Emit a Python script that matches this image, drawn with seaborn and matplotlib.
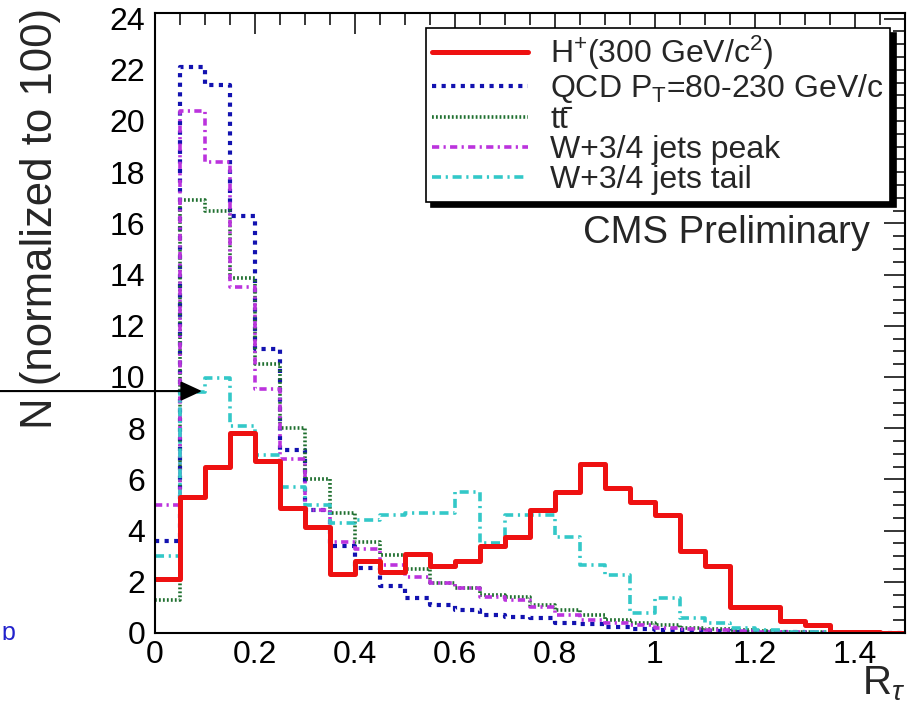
import numpy as np
import matplotlib
matplotlib.use('Agg')
import matplotlib.pyplot as plt
from matplotlib.lines import Line2D
from matplotlib.ticker import MultipleLocator, FuncFormatter
import seaborn as sns
import pandas as pd

# R_tau distributions, 30 bins of width 0.05 between 0 and 1.5 (normalized to 100)
bin_edges = list(np.linspace(0.0, 1.5, 31))
hplus = [2.1, 5.3, 6.5, 7.8, 6.7, 4.9, 4.15, 2.3, 2.8, 2.4,
         3.1, 2.6, 2.8, 3.4, 3.75, 4.8, 5.5, 6.6, 5.65, 5.1,
         4.6, 3.2, 2.6, 1.0, 1.0, 0.45, 0.3, 0.05, 0.02, 0.0]
qcd = [3.6, 22.1, 21.4, 16.3, 11.1, 7.15, 4.8, 3.4, 2.55, 1.85,
       1.35, 1.1, 0.9, 0.7, 0.63, 0.57, 0.4, 0.35, 0.25, 0.15,
       0.12, 0.1, 0.06, 0.04, 0.03, 0.02, 0.01, 0.01, 0.0, 0.0]
ttbar = [1.3, 16.9, 16.5, 13.85, 10.5, 8.0, 6.0, 4.7, 3.55, 3.05,
         2.5, 1.95, 1.75, 1.5, 1.4, 1.1, 0.9, 0.7, 0.5, 0.4,
         0.3, 0.2, 0.15, 0.1, 0.08, 0.05, 0.03, 0.02, 0.01, 0.0]
wpeak = [5.0, 20.4, 18.4, 13.5, 9.55, 6.8, 4.8, 3.55, 3.3, 2.65,
         2.2, 1.95, 1.75, 1.4, 1.3, 1.0, 0.7, 0.5, 0.4, 0.3,
         0.2, 0.15, 0.1, 0.08, 0.05, 0.03, 0.02, 0.01, 0.0, 0.0]
wtail = [3.0, 9.4, 9.95, 8.1, 6.95, 5.7, 5.0, 4.3, 4.4, 4.6,
         4.7, 4.7, 5.5, 3.5, 4.6, 4.6, 3.75, 2.65, 2.25, 0.8,
         1.35, 0.6, 0.4, 0.2, 0.1, 0.05, 0.02, 0.0, 0.0, 0.0]

labels = [r'H$^{+}$(300 GeV/c$^{2}$)',
          r'QCD P$_{\mathrm{T}}$=80-230 GeV/c',
          't t\u0304'.replace(' ', ''),
          'W+3/4 jets peak',
          'W+3/4 jets tail']
series = [hplus, qcd, ttbar, wpeak, wtail]
colors = ['#ee1111', '#1212b0', '#1f6f2f', '#bb33dd', '#33c8c8']
styles = ['-', (0, (1.0, 1.3)), (0, (0.5, 0.6)), (0, (2.0, 1.2, 0.6, 1.2)), (0, (2.5, 1.3, 0.6, 1.3))]
widths = [3.6, 3.0, 2.6, 2.6, 2.6]

sns.set_style('white')
plt.rcParams['font.family'] = ['Liberation Sans', 'DejaVu Sans']
plt.rcParams['mathtext.fontset'] = 'custom'
plt.rcParams['mathtext.rm'] = 'Liberation Sans'
plt.rcParams['mathtext.it'] = 'Liberation Sans:italic'
plt.rcParams['mathtext.bf'] = 'Liberation Sans:bold'

centers = [0.5 * (bin_edges[k] + bin_edges[k + 1]) for k in range(30)]
df = pd.DataFrame({'x': np.tile(centers, 5),
                   'w': np.concatenate(series),
                   'sample': np.repeat(labels, len(centers))})

fig = plt.figure(figsize=(9.11, 7.18), dpi=100)
ax = fig.add_axes([0.1701, 0.1184, 0.8233, 0.8639])

# draw backgrounds first, signal last (on top)
for i in [1, 2, 3, 4, 0]:
    sub = df[df['sample'] == labels[i]]
    sns.histplot(data=sub, x='x', weights='w', bins=bin_edges, element='step',
                 fill=False, color=colors[i], linestyle=styles[i],
                 linewidth=widths[i], ax=ax)

ax.set_xlim(0, 1.5)
ax.set_ylim(0, 24.23)

ax.xaxis.set_major_locator(MultipleLocator(0.2))
ax.xaxis.set_minor_locator(MultipleLocator(0.05))
ax.yaxis.set_major_locator(MultipleLocator(2))
ax.yaxis.set_minor_locator(MultipleLocator(0.5))
ax.xaxis.set_major_formatter(FuncFormatter(lambda v, p: ('%g' % round(v, 2))))
ax.tick_params(which='both', direction='in', top=True, right=True, colors='black', width=1.1)
ax.tick_params(which='major', length=15, labelsize=23)
ax.tick_params(which='minor', length=8.5)
ax.tick_params(axis='y', pad=7)
ax.tick_params(axis='x', pad=5)
for sp in ax.spines.values():
    sp.set_color('black')
    sp.set_linewidth(1.5)

ax.set_ylabel('N (normalized to 100)', fontsize=31.5, loc='top')
ax.yaxis.set_label_coords(-0.125, 1.008)
ax.set_xlabel(r'R$_{\tau}$', fontsize=29, loc='right')
ax.xaxis.set_label_coords(1.0, -0.05)

handles = [Line2D([], [], color=colors[i], linestyle=styles[i], linewidth=widths[i])
           for i in range(5)]
leg = ax.legend(handles, labels, loc='upper right', bbox_to_anchor=(0.98, 0.976),
                borderaxespad=0, fontsize=23, frameon=True, fancybox=False,
                edgecolor='black', framealpha=1, labelspacing=0.0,
                handlelength=3.0, handletextpad=0.7, borderpad=0.2,
                shadow={'ox': 4, 'oy': -4, 'color': 'black', 'alpha': 1})
leg.get_frame().set_linewidth(1.2)

ax.text(0.953, 0.645, 'CMS Preliminary', transform=ax.transAxes,
        ha='right', va='center', fontsize=27.5)

ax.annotate('', xy=(0.094, 9.45), xycoords='data',
            xytext=(0.0, 9.45), textcoords=('figure fraction', 'data'),
            annotation_clip=False, zorder=10,
            arrowprops=dict(arrowstyle='-|>,head_length=1.3,head_width=0.6',
                            mutation_scale=10, lw=1.5, color='black',
                            shrinkA=0, shrinkB=0))

fig.text(0.002, 0.118, '\u0252', color='#2222cc', fontsize=18, ha='left', va='center')

fig.savefig('out.png', dpi=100)
